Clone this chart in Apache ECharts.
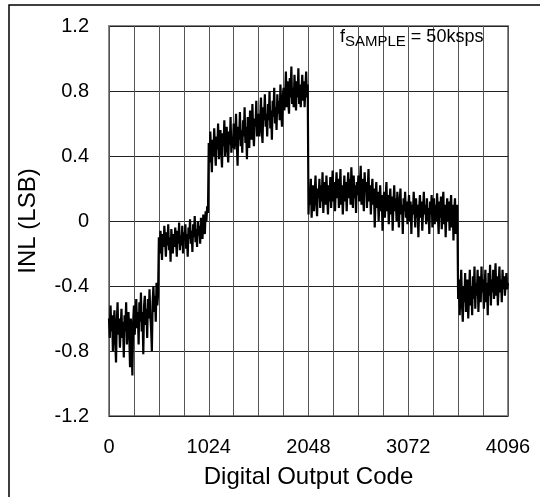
<!DOCTYPE html>
<html>
<head>
<meta charset="utf-8">
<script src="https://cdn.jsdelivr.net/npm/echarts@6/dist/echarts.min.js"></script>
<style>
html,body{margin:0;padding:0;background:#fff;}
#chart{width:540px;height:497px;}
</style>
</head>
<body>
<div id="chart"></div>
<script>
// Digital output code step between samples
const codeStep = 8;
// INL readings (LSB) per segment
const segA = [-0.60,-0.72,-0.52,-0.68,-0.58,-0.80,-0.64,-0.55,-0.74,-0.87,-0.62,-0.50,-0.70,-0.60,-0.78,-0.66,-0.54,-0.72,-0.62,-0.84,-0.58,-0.68,-0.50,-0.76,-0.64,-0.56,-0.70,-0.90,-0.60,-0.74,-0.95,-0.62,
              -0.52,-0.70,-0.58,-0.48,-0.66,-0.56,-0.76,-0.50,-0.62,-0.44,-0.68,-0.56,-0.82,-0.52,-0.46,-0.64,-0.54,-0.72,-0.48,-0.60,-0.42,-0.58,-0.66,-0.80,-0.50,-0.40,-0.56,-0.46,-0.62,-0.38,-0.52,-0.45];
const segB = [-0.10,-0.20,-0.06,-0.14,-0.24,-0.08,-0.16,-0.03,-0.12,-0.22,-0.07,-0.15,-0.02,-0.18,-0.10,-0.25,-0.05,-0.13,-0.20,-0.08,-0.16,-0.04,-0.12,-0.22,-0.06,-0.14,-0.01,-0.18,-0.09,-0.15,-0.03,-0.20,
              -0.07,-0.12,-0.02,-0.17,-0.08,-0.22,-0.04,-0.11,0.01,-0.14,-0.06,-0.19,-0.02,-0.10,0.03,-0.13,-0.05,-0.16,0.00,-0.09,-0.03,-0.14,0.02,-0.07,-0.11,0.04,-0.04,-0.08,0.06,0.00,0.09,0.05];
const segC = [0.48,0.36,0.55,0.42,0.30,0.50,0.40,0.57,0.45,0.34,0.52,0.44,0.60,0.38,0.48,0.56,0.42,0.33,0.54,0.46,0.62,0.40,0.50,0.58,0.44,0.36,0.55,0.47,0.64,0.42,0.52,0.45,
              0.60,0.44,0.53,0.66,0.48,0.34,0.58,0.50,0.67,0.46,0.56,0.42,0.62,0.52,0.70,0.48,0.58,0.38,0.64,0.54,0.45,0.68,0.56,0.50,0.72,0.55,0.46,0.63,0.58,0.74,0.52,0.60,
              0.66,0.52,0.63,0.76,0.56,0.48,0.70,0.62,0.78,0.58,0.66,0.52,0.72,0.62,0.80,0.57,0.68,0.50,0.74,0.64,0.82,0.60,0.70,0.56,0.78,0.66,0.74,0.62,0.84,0.68,0.58,0.76,
              0.82,0.68,0.76,0.92,0.70,0.86,0.74,0.66,0.88,0.76,0.95,0.72,0.82,0.70,0.90,0.78,0.68,0.86,0.76,0.94,0.72,0.84,0.70,0.80,0.90,0.74,0.86,0.70,0.82,0.92,0.76,0.84];
const segD = [0.04,0.20,0.10,0.26,0.02,0.16,0.22,0.06,0.18,0.28,0.12,0.03,0.20,0.14,0.26,0.08,0.22,0.12,0.30,0.05,0.18,0.24,0.10,0.28,0.15,0.04,0.22,0.12,0.27,0.08,0.19,0.31,
              0.12,0.24,0.06,0.20,0.30,0.14,0.26,0.08,0.18,0.32,0.10,0.22,0.04,0.16,0.28,0.12,0.24,0.06,0.20,0.30,0.14,0.26,0.10,0.33,0.18,0.08,0.28,0.14,0.22,0.05,0.24,0.16,
              0.28,0.12,0.22,0.34,0.10,0.26,0.16,0.06,0.30,0.18,0.24,0.08,0.20,0.32,0.12,0.22,0.04,0.18,0.26,0.10,0.20,-0.04,0.14,0.24,0.08,0.18,0.00,0.12,0.22,0.06,0.16,-0.06,
              0.10,0.18,0.02,0.14,0.24,0.06,0.16,-0.02,0.12,0.20,0.04,0.15,-0.06,0.10,0.22,0.06,0.14,0.00,0.18,0.08,-0.04,0.12,0.20,0.04,0.10,-0.08,0.14,0.06,0.18,0.02,0.12,-0.02,
              0.08,0.16,0.00,0.12,-0.08,0.10,0.04,0.18,0.06,-0.04,0.14,0.02,0.10,-0.10,0.08,0.16,0.02,0.12,-0.06,0.06,0.18,0.04,0.10,-0.02,0.14,0.00,0.08,-0.08,0.12,0.04,0.16,-0.04,
              0.06,0.14,-0.02,0.10,0.00,0.17,0.04,-0.08,0.12,0.02,0.15,-0.05,0.08,0.18,-0.02,0.10,-0.10,0.06,0.14,0.00,0.12,-0.06,0.08,0.16,-0.04,0.10,-0.12,0.06,0.14,-0.08,0.04,0.10];
const segE = [-0.48,-0.36,-0.58,-0.42,-0.30,-0.52,-0.62,-0.40,-0.50,-0.32,-0.56,-0.44,-0.36,-0.60,-0.46,-0.30,-0.52,-0.40,-0.58,-0.34,-0.48,-0.28,-0.54,-0.38,-0.46,-0.30,-0.56,-0.42,-0.34,-0.50,-0.28,-0.44,
              -0.36,-0.54,-0.40,-0.30,-0.50,-0.38,-0.58,-0.32,-0.46,-0.27,-0.52,-0.36,-0.44,-0.30,-0.48,-0.38,-0.26,-0.46,-0.34,-0.52,-0.40,-0.28,-0.44,-0.36,-0.50,-0.30,-0.42,-0.34,-0.46,-0.38,-0.32,-0.42,-0.38];
const inlValues = [].concat(segA, segB, segC, segD, segE);
const xTickLabels = ['0','1024','2048','3072','4096'];
const yTickLabels = ['-1.2','-0.8','-0.4','0','0.4','0.8','1.2'];

const seriesData = inlValues.map((v, i) => [i * codeStep, v]);

const chart = echarts.init(document.getElementById('chart'), null, {renderer:'canvas'});
const font = 'Liberation Sans, Arial, sans-serif';
chart.setOption({
  animation:false,
  backgroundColor:'#fff',
  grid:{left:109, right:32, top:26, bottom:81, show:true, borderColor:'#888', borderWidth:2, backgroundColor:'transparent'},
  xAxis:{
    type:'value', min:0, max:4096, interval:256,
    axisLine:{show:false}, axisTick:{show:false},
    splitLine:{show:true, lineStyle:{color:'#555', width:1}},
    axisLabel:{margin:21, fontFamily:font, fontSize:20, color:'#000',
      formatter:v => (v % 1024 === 0) ? xTickLabels[v/1024] : ''},
    name:'Digital Output Code', nameLocation:'middle', nameGap:49,
    nameTextStyle:{fontFamily:font, fontSize:24, color:'#000'}
  },
  yAxis:{
    type:'value', min:-1.2, max:1.2, interval:0.4,
    axisLine:{show:false}, axisTick:{show:false},
    splitLine:{show:true, lineStyle:{color:'#222', width:1}},
    axisLabel:{margin:20, fontFamily:font, fontSize:20, color:'#000',
      formatter:v => yTickLabels[Math.round((v + 1.2)/0.4)]},
    name:'INL (LSB)', nameLocation:'middle', nameGap:69, nameRotate:90,
    nameTextStyle:{fontFamily:font, fontSize:24, color:'#000'}
  },
  series:[{
    type:'line', data:seriesData, showSymbol:false, symbol:'none', sampling:null,
    lineStyle:{color:'#000', width:2.2}, z:5
  }],
  graphic:[
    {type:'rect', shape:{x:9, y:5, width:560, height:520}, style:{fill:'none', stroke:'#000', lineWidth:1.5}, silent:true},
    {type:'text', left:340, top:28, z:10, style:{
      text:'{a|f}{b|SAMPLE}{a| = 50ksps}',
      rich:{
        a:{fontFamily:font, fontSize:18, color:'#000', verticalAlign:'top', lineHeight:20},
        b:{fontFamily:font, fontSize:15, color:'#000', padding:[6,0,0,0], lineHeight:20}
      }
    }}
  ]
});
</script>
</body>
</html>
